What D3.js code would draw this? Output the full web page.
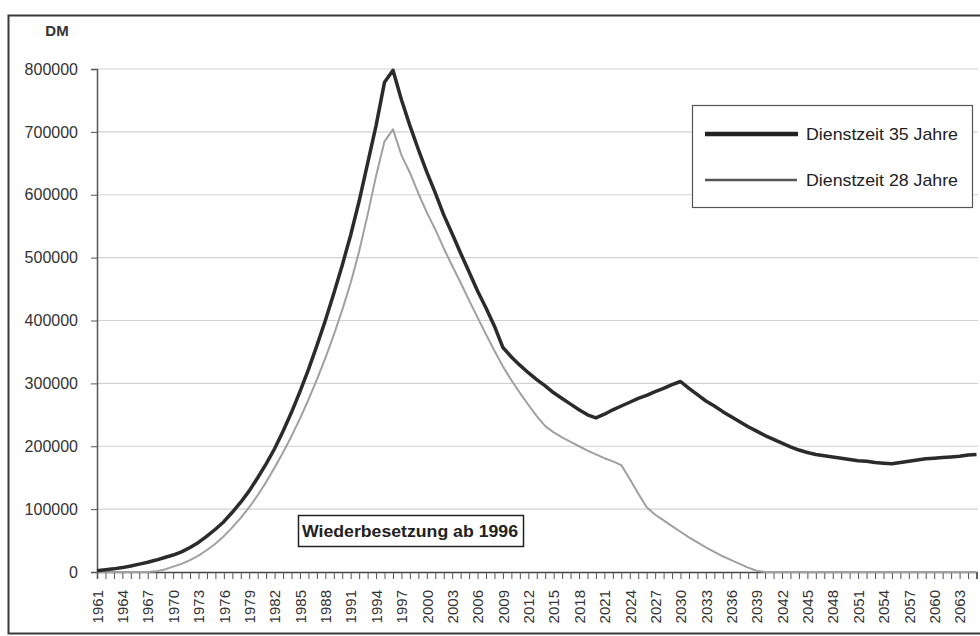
<!DOCTYPE html>
<html><head><meta charset="utf-8">
<script src="https://cdn.jsdelivr.net/npm/d3@7"></script>
<style>body{margin:0;background:#fff}svg{display:block;font-family:Arial,"Liberation Sans",sans-serif}</style>
</head><body><svg id="c" width="980" height="636"></svg>
<script>
const years = d3.range(1961, 2066);
const dienst35 = [
 2000,3500,5000,7000,9500,12500,15500,19000,23000,27000,
 32000,39000,47000,57000,68000,80000,95000,111000,129000,150000,
 172000,196000,224000,254000,287000,322000,360000,400000,443000,488000,
 536000,590000,650000,710000,779000,798000,751000,710000,672000,636000,
 603000,568000,538000,507000,477000,447000,420000,391000,357000,342000,
 329000,317000,306000,296000,285000,276000,267000,258000,250000,245000,
 251000,258000,264000,270000,276000,281000,287000,292000,298000,303000,
 292000,282000,272000,264000,255000,247000,239000,231000,224000,217000,
 211000,205000,199000,194000,190000,187000,185000,183000,181000,179000,
 177000,176000,174000,173000,172000,174000,176000,178000,180000,181000,
 182000,183000,184000,186000,187000];
const dienst28 = [
 0,0,0,0,0,0,0,1000,4000,8500,
 13000,19000,26000,35000,45000,57000,71000,86000,103000,122000,
 143000,166000,190000,216000,244000,274000,306000,340000,377000,417000,
 460000,510000,568000,630000,685000,704000,663000,635000,602000,572000,
 545000,515000,487000,460000,432000,405000,378000,352000,327000,305000,
 285000,266000,248000,232000,222000,214000,207000,200000,193000,187000,
 181000,176000,170000,148000,125000,103000,91000,82000,73000,64000,
 55000,47000,39000,32000,25000,19000,13000,7000,2000,0,
 0,0,0,0,0,0,0,0,0,0,
 0,0,0,0,0,0,0,0,0,0,
 0,0,0,0,0];
const yTicks = [0,100000,200000,300000,400000,500000,600000,700000,800000];
const seriesNames = ["Dienstzeit 35 Jahre","Dienstzeit 28 Jahre"];
const unitLabel = "DM";
const noteLabel = "Wiederbesetzung ab 1996";

const svg = d3.select("#c");
const x = d3.scalePoint().domain(years).range([97, 976.5]);
const y = d3.scaleLinear().domain([0, 800000]).range([572, 69]);

// outer frame
svg.append("rect").attr("x",8.5).attr("y",15.5).attr("width",1000).attr("height",618)
  .attr("fill","none").attr("stroke","#3a3a3a").attr("stroke-width",2);

// gridlines
svg.append("g").selectAll("line").data(yTicks.filter(d=>d>0)).join("line")
  .attr("x1",97).attr("x2",978).attr("y1",d=>y(d)).attr("y2",d=>y(d))
  .attr("stroke","#d2d2d2").attr("stroke-width",1.2);

// y axis
const ya = svg.append("g").attr("transform","translate(97,0)")
  .call(d3.axisLeft(y).tickValues(yTicks).tickSize(6).tickPadding(13).tickFormat(d3.format("d")));
ya.select(".domain").attr("stroke","#555").attr("stroke-width",1.5);
ya.selectAll(".tick line").attr("stroke","#555");
ya.selectAll("text").attr("font-size","16px").attr("fill","#333").attr("font-family","Arial, 'Liberation Sans', sans-serif");

// x axis
const xa = svg.append("g").attr("transform","translate(0,572)")
  .call(d3.axisBottom(x).tickSize(7).tickFormat(d => (d-1961)%3===0 ? d : ""));
xa.select(".domain").attr("stroke","#444").attr("stroke-width",1.5);
xa.selectAll(".tick line").attr("stroke","#555");
xa.selectAll("text").attr("font-size","15px").attr("fill","#333")
  .attr("font-family","Arial, 'Liberation Sans', sans-serif")
  .attr("transform","rotate(-90)").attr("text-anchor","end")
  .attr("x",-18).attr("y",0).attr("dy","0.35em");

// unit label
svg.append("text").attr("x",57).attr("y",36).attr("text-anchor","middle")
  .attr("font-size","15px").attr("font-weight","bold").attr("fill","#333").text(unitLabel);

const line = d3.line().x((d,i)=>x(years[i])).y(d=>y(d));
svg.append("path").datum(dienst28).attr("d",line).attr("fill","none")
  .attr("stroke","#a0a0a0").attr("stroke-width",2).attr("stroke-linejoin","round");
svg.append("path").datum(dienst35).attr("d",line).attr("fill","none")
  .attr("stroke","#2b2b2b").attr("stroke-width",3.5).attr("stroke-linejoin","round");

// note box
const nb = svg.append("g");
nb.append("rect").attr("x",298.5).attr("y",515.5).attr("width",225).attr("height",31)
  .attr("fill","#fff").attr("stroke","#222").attr("stroke-width",1.5);
nb.append("text").attr("x",410).attr("y",537).attr("text-anchor","middle")
  .attr("font-size","17px").attr("font-weight","bold").attr("fill","#222")
  .attr("textLength",216).attr("lengthAdjust","spacingAndGlyphs").text(noteLabel);

// legend
const lg = svg.append("g");
lg.append("rect").attr("x",692.5).attr("y",105.5).attr("width",280).attr("height",102)
  .attr("fill","#fff").attr("stroke","#555").attr("stroke-width",1.2);
const lgY = [134,180];
lg.append("line").attr("x1",705).attr("x2",798).attr("y1",lgY[0]).attr("y2",lgY[0])
  .attr("stroke","#222").attr("stroke-width",4.5);
lg.append("line").attr("x1",705).attr("x2",797).attr("y1",lgY[1]).attr("y2",lgY[1])
  .attr("stroke","#555").attr("stroke-width",2.5);
lg.selectAll("text.l").data(seriesNames).join("text").attr("class","l")
  .attr("x",806).attr("y",(d,i)=>lgY[i]).attr("dy","0.35em")
  .attr("font-size","17px").attr("fill","#222")
  .attr("textLength",152).attr("lengthAdjust","spacingAndGlyphs").text(d=>d);
</script></body></html>
